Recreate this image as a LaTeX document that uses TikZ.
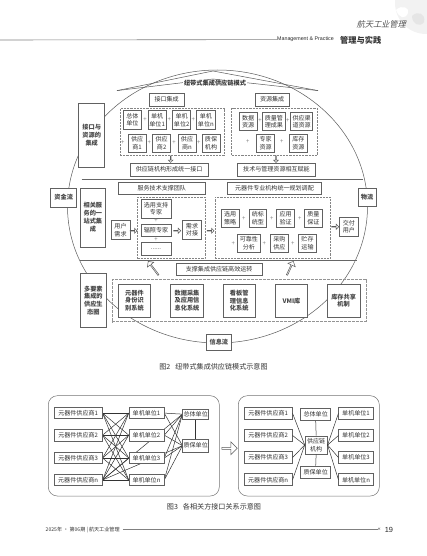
\documentclass[tikz,border=0pt]{standalone}
\usepackage{fontspec}
\setmainfont{Noto Sans CJK SC}
\newfontfamily\latinf{Liberation Sans}
\usetikzlibrary{shapes.geometric,shapes.arrows}
\pgfdeclarelayer{under}
\pgfsetlayers{under,main}
\tikzset{
  boxa/.style={draw=black!62,line width=.55pt,fill=white,align=center,inner sep=0pt,text=black!80,font=\fontsize{6.05}{7.4}\selectfont},
  boxb/.style={boxa,font=\fontsize{6.2}{7.9}\bfseries\selectfont,text=black!72},
  boxc/.style={boxa,line width=.7pt,text=black!72,font=\fontsize{6.2}{7.8}\selectfont},
  grp/.style={draw=black!48,line width=.5pt,dash pattern=on 2.2pt off 1pt,fill=none},
  grpwide/.style={draw=black!42,line width=.8pt,dash pattern=on 3pt off 1pt,fill=none},
  plussign/.style={text=black!50,inner sep=0pt,font=\fontsize{6}{6}\selectfont},
  hollow/.style={single arrow,draw=black!65,fill=white,line width=.5pt,inner sep=0pt,single arrow head extend=1.3pt,single arrow tip angle=90,shape border uses incircle=false},
  linkline/.style={draw=black!80,line width=.5pt},
  frame/.style={draw=black!55,line width=.5pt,rounded corners=9pt},
  capt/.style={inner sep=0pt,text=black!80,font=\fontsize{7.1}{8}\selectfont},
}
\newcommand{\mybx}[6][boxa]{%
  \pgfmathsetmacro\bxw{#5-#3}\pgfmathsetmacro\bxh{#6-#4}%
  \pgfmathsetmacro\bxx{(#5+#3)/2}\pgfmathsetmacro\bxy{(#6+#4)/2}%
  \node[#1,minimum width=\bxw pt,minimum height=\bxh pt] (#2) at (\bxx,\bxy)}
\newcommand{\myplus}[3]{\node[plussign] (#1) at (#2,#3) {+};}
\newcommand{\myarr}[6]{\node[hollow,rotate=#4,minimum height=#5pt,minimum width=#6pt] (#1) at (#2,#3) {};}
\begin{document}
\begin{tikzpicture}[x=1pt,y=-1pt]
\useasboundingbox (0,0) rectangle (427,556);
% ---- page decoration
\begin{scope}
\clip (0,0) rectangle (427,556);
\fill[black!5] (426,3) circle (31pt);
\fill[white] (396,10) .. controls (402,4) and (410,8) .. (408,13) .. controls (405,20) and (399,18) .. cycle;
\fill[black!10] (412,16) .. controls (418,10) and (426,14) .. (424,22) .. controls (420,28) and (412,24) .. cycle;
\end{scope}
\node[inner sep=0pt,text=black!68,xslant=.25,font=\fontsize{8.2}{8}\selectfont] (brand) at (382,24) {航天工业管理};
\coordinate (headl) at (0,40);
\node[inner sep=0pt,text=black!85,anchor=west,font=\latinf\fontsize{5.3}{6}\selectfont] (headen) at (277,39.6) {Management \& Practice};
\node[inner sep=0pt,text=black!80,anchor=west,font=\fontsize{8.2}{9}\bfseries\selectfont] (headcn) at (340,40) {管理与实践};
\draw[black!50,line width=.6pt] (headl) -- (headen.west);
\node[inner sep=0pt,text=black!80,anchor=west,font=\fontsize{5.1}{6}\selectfont] (footl) at (45.5,529.7) {2025年 · 第06期 | 航天工业管理};
\node[inner sep=0pt,text=black!80,font=\latinf\fontsize{5}{6}\selectfont] (footm) at (379.2,529.7) {«};
\node[inner sep=0pt,text=black!85,anchor=west,font=\latinf\fontsize{7.4}{8}\selectfont] (footn) at (384.6,529.7) {19};
\draw[black!50,line width=.6pt] (footl.east) ++(3,0) -- (footm.west);
% ---- figure 2: hub and roof
\node[ellipse,draw=black!65,line width=.5pt,inner sep=0pt,minimum width=300pt,minimum height=273pt] (hub) at (217.5,206.5) {};
\coordinate (roofl) at (117,90.6);
\coordinate (roofr) at (318,90.6);
\coordinate (rooft) at (213,71);
\coordinate (roofm) at (213,79);
\draw[black!65,line width=.5pt] (roofl) -- (rooft) -- (roofr);
\draw[black!65,line width=.5pt] (roofl) -- (roofm) -- (roofr);
\coordinate (sepal) at (81.7,179);
\coordinate (separ) at (363,179);
\coordinate (sepbl) at (80,260.7);
\coordinate (sepbr) at (356.7,260.7);
\draw[black!60,line width=.55pt] (sepal) -- (separ);
\draw[black!60,line width=.55pt] (sepbl) -- (sepbr);
% dashed groups
\mybx[grp]{g1}{120}{108.7}{224.7}{155} {};
\mybx[grp]{g2}{231.7}{108.7}{317.7}{155} {};
\mybx[grp]{g3}{137.3}{197.3}{205}{258.3} {};
\mybx[grp]{g4}{215}{197.3}{330.7}{258.3} {};
\mybx[grpwide]{g5}{112.3}{279.3}{366}{321.7} {};
% title
\node[fill=white,inner sep=1pt,text=black!78,font=\fontsize{6.2}{7}\bfseries\selectfont] (title) at (215,83.6) {纽带式集成供应链模式};
% left/side boxes
\mybx[boxb]{l1}{78.7}{103}{104.7}{167} {接口与\\资源的\\集成};
\mybx[boxb]{l2}{80}{188}{105.7}{247} {相关服\\务的一\\站式集\\成};
\mybx[boxb]{l3}{80.7}{273.3}{106}{327.7} {多要素\\集成的\\供应生\\态圈};
\mybx[boxb]{zj}{50.7}{188}{76.7}{207} {资金流};
\mybx[boxb]{wl}{358.3}{188.3}{376}{206.7} {物流};
\mybx[boxb]{xx}{206}{334}{231.7}{350} {信息流};
% interface integration
\mybx{hA}{149.3}{93.3}{184}{106} {接口集成};
\mybx{hB}{255}{93.3}{289.3}{106} {资源集成};
\mybx{a1}{123}{110.7}{141.7}{129.3} {总体\\单位};
\mybx{a2}{148.3}{110.7}{166}{129.3} {单机\\单位1};
\mybx{a3}{172.7}{110.7}{190.7}{129.3} {单机\\单位2};
\mybx{a4}{196.7}{110.7}{215}{129.3} {单机\\单位n};
\mybx{a5}{128.3}{134}{146}{152.7} {供应\\商1};
\mybx{a6}{152.7}{134}{170.7}{152.7} {供应\\商2};
\mybx{a7}{178}{134}{196}{152.7} {供应\\商n};
\mybx{a8}{202}{134}{220}{152.7} {质保\\机构};
\myplus{pa1}{145}{120}\myplus{pa2}{169.3}{120}\myplus{pa3}{193.3}{120}
\myplus{pa4}{122.7}{143}\myplus{pa5}{149.3}{143}\myplus{pa6}{174}{143}\myplus{pa7}{198.7}{143}
\myarr{da1}{170.7}{159}{270}{6.5}{4.5}
\mybx{ra}{130}{163.3}{208.3}{176} {供应链机构形成统一接口};
% resource integration
\mybx{b1}{239}{112.3}{257.3}{130.7} {数据\\资源};
\mybx{b2}{262.7}{112.3}{285}{130.7} {质量管\\理成果};
\mybx{b3}{290.7}{112.3}{312.7}{130.7} {供应渠\\道资源};
\mybx{b4}{256.7}{134}{274.7}{152.3} {专家\\资源};
\mybx{b5}{289.3}{134}{307.3}{152.3} {库存\\资源};
\myplus{pb1}{260}{121}\myplus{pb2}{287.7}{121}\myplus{pb3}{247.7}{141.3}\myplus{pb4}{281.7}{141.3}
\myarr{da2}{276}{159}{270}{6.5}{4.5}
\mybx{rb}{237.3}{163.3}{315.7}{176} {技术与管理资源相互赋能};
% service row
\mybx{sv1}{118.3}{182.3}{205.3}{194.3} {服务技术支撑团队};
\mybx{sv2}{227.3}{182.3}{321.7}{194.3} {元器件专业机构统一规划调配};
\mybx{e1}{141}{199.3}{171}{218.3} {选用支持\\专家};
\mybx{e2}{141}{224.3}{171}{236.7} {辐照专家};
\mybx{e3}{141}{242.7}{171}{255} {......};
\myplus{pe1}{156}{221}\myplus{pe2}{156}{240}
\mybx{u1}{111}{220.7}{130}{239.3} {用户\\需求};
\mybx{u2}{182.7}{220.7}{201.3}{239.3} {需求\\对接};
\myarr{ra1}{133.3}{230.7}{0}{7}{5}
\myarr{ra2}{177}{230.7}{0}{7}{5}
\myarr{ra3}{210.3}{230.7}{0}{7}{5}
\mybx{c1}{221}{209.3}{239.3}{227.3} {选用\\策略};
\mybx{c2}{249}{209.3}{266.7}{227.3} {统标\\统型};
\mybx{c3}{276.7}{209.3}{294.7}{227.3} {应用\\验证};
\mybx{c4}{304.3}{209.3}{322.3}{227.3} {质量\\保证};
\mybx{c5}{237.7}{234.3}{260}{252.3} {可靠性\\分析};
\mybx{c6}{270.3}{234.3}{288.3}{252.3} {采购\\供应};
\mybx{c7}{298.3}{234.3}{316.7}{252.3} {贮存\\运输};
\myplus{pc1}{243.7}{218.3}\myplus{pc2}{271.7}{218.3}\myplus{pc3}{299.7}{218.3}
\myplus{pc4}{233.3}{243.3}\myplus{pc5}{264.3}{243.3}\myplus{pc6}{292.7}{243.3}
\myarr{ra4}{335}{226.7}{0}{7}{5}
\mybx{dl}{339.3}{217.3}{358.3}{236} {交付\\用户};
\mybx{sp}{176}{263.3}{262.3}{275.7} {支撑集成供应链高效运转};
\myarr{ua1}{153.5}{268.5}{127}{17}{8}
\myarr{ua2}{290}{268.5}{65}{15}{8}
% bottom systems
\mybx[boxc]{f1}{118.3}{284}{150.7}{317.3} {\bfseries 元器件\\\bfseries 身份识\\\bfseries 别系统};
\mybx[boxc]{f2}{170.7}{284}{203.3}{317.3} {\bfseries 数据采集\\\bfseries 及应用信\\\bfseries 息化系统};
\mybx[boxc]{f3}{223.3}{284}{255}{317.3} {\bfseries 看板管\\\bfseries 理信息\\\bfseries 化系统};
\mybx[boxc]{f4}{275.3}{284}{307.7}{317.3} {\bfseries VMI库};
\mybx[boxc]{f5}{327.3}{284}{360}{317.3} {\bfseries 库存共享\\\bfseries 机制};
\node[capt] (cap2) at (213.5,366.7) {图2\hspace{5pt}纽带式集成供应链模式示意图};
% ---- figure 3, left panel
\draw[frame] (48.3,395.7) rectangle (219.3,496);
\mybx{s1}{54}{407.7}{102.3}{418.5} {元器件供应商1};
\mybx{s2}{54}{429.3}{102.3}{441} {元器件供应商2};
\mybx{s3}{54}{452.3}{102.3}{463.7} {元器件供应商3};
\mybx{sn}{54}{474.3}{102.3}{485.7} {元器件供应商n};
\mybx{m1}{129}{407.7}{164}{418.5} {单机单位1};
\mybx{m2}{129}{429.3}{164}{441} {单机单位2};
\mybx{m3}{129}{452.3}{164}{463.7} {单机单位3};
\mybx{mn}{129}{474.3}{164}{485.7} {单机单位n};
\mybx{zt}{182.7}{409}{208.7}{419.3} {总体单位};
\mybx{zb}{182.7}{439.3}{208.7}{452} {质保单位};
\begin{pgfonlayer}{under}
\foreach \a in {s1,s2,s3,sn}{\foreach \b in {m1,m2,m3,mn}{\draw[linkline] (\a.east) -- (\b.west);}}
\foreach \b in {m1,m2,m3,mn}{\draw[linkline] (\b.east) -- (zt.west);\draw[linkline] (\b.east) -- (zb.west);}
\draw[linkline] (sn.east) -- (zt.west);
\draw[linkline] (sn.east) -- (zb.west);
\draw[linkline] (zt.south) -- (zb.north);
\end{pgfonlayer}
\node[capt] (cap3) at (214,506.7) {图3\hspace{5pt}各相关方接口关系示意图};
\myarr{big}{229}{448.3}{0}{15.5}{13}
% ---- figure 3, right panel
\draw[frame] (238.3,395.7) rectangle (379.3,496);
\mybx{t1}{244}{407.7}{292.3}{419} {元器件供应商1};
\mybx{t2}{244}{429.3}{292.3}{441.7} {元器件供应商2};
\mybx{t3}{244}{451.7}{292.3}{463.3} {元器件供应商3};
\mybx{tn}{244}{473.7}{292.3}{485.7} {元器件供应商n};
\mybx{v1}{338.7}{407.7}{373.3}{419} {单机单位1};
\mybx{v2}{338.7}{429.3}{373.3}{441.7} {单机单位2};
\mybx{v3}{338.7}{451.7}{373.3}{463.3} {单机单位3};
\mybx{vn}{338.7}{473.7}{373.3}{485.7} {单机单位n};
\mybx{w1}{300.7}{408.3}{330.7}{420.7} {总体单位};
\mybx{w2}{300.7}{466}{330.7}{478.3} {质保单位};
\mybx{org}{305}{436}{327.3}{454} {供应链\\机构};
\foreach \a in {t1,t2,t3,tn}{\draw[linkline] (\a.east) -- (org.west);}
\foreach \b in {v1,v2,v3,vn}{\draw[linkline] (\b.west) -- (org.east);}
\draw[linkline] (w1.south) -- (org.north);
\draw[linkline] (org.south) -- (w2.north);
\end{tikzpicture}
\end{document}
